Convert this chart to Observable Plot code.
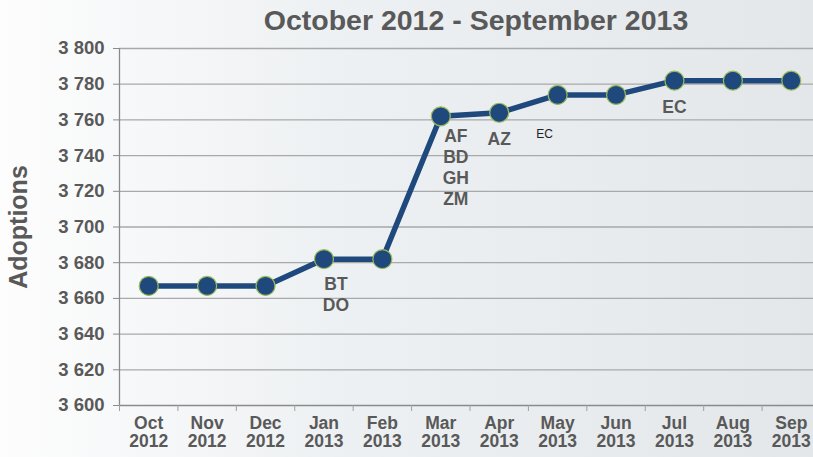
<!DOCTYPE html>
<html><head><meta charset="utf-8">
<script src="https://cdn.jsdelivr.net/npm/d3@7"></script>
<script src="https://cdn.jsdelivr.net/npm/@observablehq/plot@0.6"></script>
<style>
html,body{margin:0;padding:0;}
body{width:813px;height:457px;overflow:hidden;background:linear-gradient(to right,#fdfdfd 0%,#eef1f3 40%,#e3e7ea 100%);font-family:"Liberation Sans",Arial,sans-serif;}
#title{height:28px;padding-top:6px;line-height:28px;font-size:28.5px;font-weight:bold;color:#595959;text-align:center;padding-left:139px;width:674px;white-space:nowrap;}
#chart svg{display:block;}
</style></head><body>
<div id="title">October 2012 - September 2013</div>
<div id="chart"></div>
<script>
const months = ["Oct","Nov","Dec","Jan","Feb","Mar","Apr","May","Jun","Jul","Aug","Sep"];
const years = ["2012","2012","2012","2013","2013","2013","2013","2013","2013","2013","2013","2013"];
const adoptions = [3667,3667,3667,3682,3682,3762,3764,3774,3774,3782,3782,3782];
const yTicks = [3600,3620,3640,3660,3680,3700,3720,3740,3760,3780,3800];
const annMonth = ["Jan","Mar","Apr","May","Jul"];
const annText = ["BT\nDO","AF\nBD\nGH\nZM","AZ","EC","EC"];

const data = months.map((m, i) => ({i, month: m, year: years[i], value: adoptions[i]}));
const ann = annMonth.map((m, k) => {
  const i = months.indexOf(m);
  return {i, value: adoptions[i], text: annText[k]};
});
const idx = data.map(d => d.i);
const bounds = [...idx.map(i => i - 0.5), idx[idx.length - 1] + 0.5];
const fmt = d3.formatLocale({decimal: ".", thousands: " ", grouping: [3], currency: ["", ""]}).format(",");

const textColor = "#595959";
const annMark = (k, dx, dy, opts = {}) => Plot.text([ann[k]], {
  x: "i", y: "value", text: "text", dx, dy, lineAnchor: "top", lineHeight: 1.2,
  fontSize: 17.5, fontWeight: "bold", fill: textColor, ...opts
});

const chart = Plot.plot({
  width: 813, height: 423,
  marginLeft: 119, marginRight: -7, marginTop: 14, marginBottom: 52,
  style: {background: "transparent", color: textColor, fontFamily: "'Liberation Sans', Arial, sans-serif"},
  x: {type: "linear", domain: [bounds[0], bounds[bounds.length - 1]]},
  y: {domain: [yTicks[0], yTicks[yTicks.length - 1]]},
  marks: [
    Plot.gridY(yTicks.slice(1), {stroke: "#a9a9a9", strokeOpacity: 1, strokeWidth: 1.3}),
    Plot.ruleY([yTicks[0]], {stroke: "#8a8a8a", strokeWidth: 1.3}),
    Plot.ruleX([bounds[0]], {stroke: "#8a8a8a", strokeWidth: 1.3}),
    Plot.axisY(yTicks, {tickSize: 6, tickPadding: 9, tickFormat: fmt, fontSize: 18.5, fontWeight: "bold",
      stroke: "#8a8a8a", label: null}),
    Plot.axisX(bounds, {tickSize: 6, tickFormat: () => "", stroke: "#a0a0a0", label: null}),
    Plot.axisX(idx, {tickSize: 0, tickPadding: 10, tickFormat: i => months[i] + "\n" + years[i],
      fontSize: 17.5, fontWeight: "bold", lineHeight: 1.05, label: null}),
    Plot.text(["Adoptions"], {frameAnchor: "left", textAnchor: "middle", rotate: -90, dx: -101,
      fontSize: 25, fontWeight: "bold", fill: textColor}),
    Plot.line(data, {x: "i", y: "value", stroke: "#1f497d", strokeWidth: 5.5}),
    Plot.dot(data, {x: "i", y: "value", r: 9.5, fill: "#1f497d", stroke: "#9bbb59", strokeWidth: 1.2}),
    annMark(0, 12, 16),
    annMark(1, 15, 11),
    annMark(2, 0, 17),
    annMark(3, -13, 33, {fontSize: 12, fontWeight: "normal", fill: "#222"}),
    annMark(4, 0, 17)
  ]
});
document.getElementById("chart").appendChild(chart);
</script>
</body></html>
